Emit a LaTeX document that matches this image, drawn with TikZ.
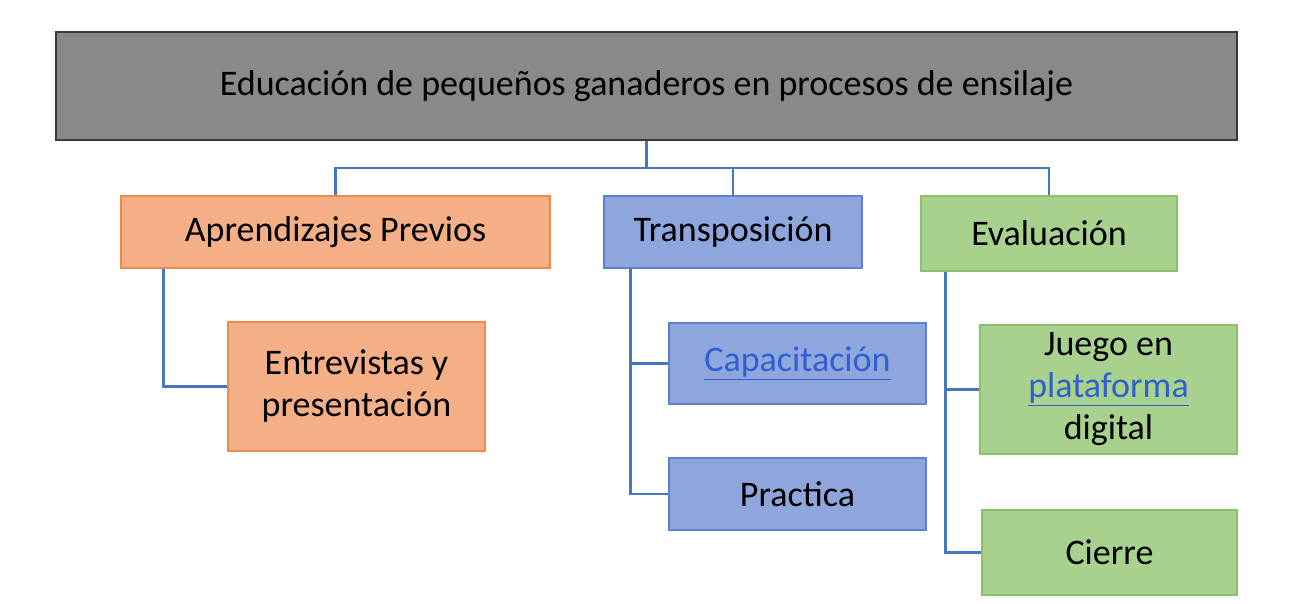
\documentclass[tikz,border=0pt]{standalone}
\usepackage{fontspec}
\setmainfont{Carlito}
\definecolor{grayfill}{HTML}{898989}
\definecolor{grayline}{HTML}{3A3A3A}
\definecolor{orfill}{HTML}{F4AF86}
\definecolor{orline}{HTML}{F08A4B}
\definecolor{blfill}{HTML}{8FA6DD}
\definecolor{blline}{HTML}{5F82CF}
\definecolor{grfill}{HTML}{A9D18E}
\definecolor{grline}{HTML}{8CBF6C}
\definecolor{conn}{HTML}{4678BE}
\definecolor{linkc}{HTML}{2F5FD0}
\newcommand{\lnk}[1]{{\color{linkc}\underline{#1}}}
\tikzset{
  box/.style={draw, line width=1.2pt, inner sep=0pt, align=center, font=\fontsize{36}{42}\selectfont},
  graybox/.style={box, fill=grayfill, draw=grayline, line width=1.5pt},
  orbox/.style={box, fill=orfill, draw=orline},
  blbox/.style={box, fill=blfill, draw=blline},
  grbox/.style={box, fill=grfill, draw=grline},
  wire/.style={draw=conn, line width=2.8pt}
}
\begin{document}
\begin{tikzpicture}[x=1pt,y=-1pt]
\useasboundingbox (0,0) rectangle (1290,604);
\node[graybox, minimum width=1181pt, minimum height=108pt] (top) at (646.5,86) {Educación de pequeños ganaderos en procesos de ensilaje};
\node[orbox, minimum width=429pt, minimum height=72pt] (ap) at (335.5,232) {Aprendizajes Previos};
\node[blbox, minimum width=258pt, minimum height=72pt] (tr) at (733,232) {Transposición};
\node[grbox, minimum width=256pt, minimum height=75pt] (ev) at (1049,233.5) {Evaluación};
\node[orbox, minimum width=257pt, minimum height=129pt] (ent) at (356.5,386.5) {Entrevistas y\\presentación};
\node[blbox, minimum width=257pt, minimum height=81pt] (cap) at (797.5,363.5) {\lnk{Capacitación}};
\node[blbox, minimum width=257pt, minimum height=72pt] (pra) at (797.5,494) {Practica};
\node[grbox, minimum width=257pt, minimum height=129pt] (jue) at (1108.5,389.5) {Juego en\\\lnk{plataforma}\\digital};
\node[grbox, minimum width=255pt, minimum height=85pt] (cie) at (1109.5,552.5) {Cierre};
\coordinate (j) at (top.south |- 0,168);
\draw[wire] (top.south) -- (j);
\draw[wire] (ap.north) |- (ev.north |- j) -- (ev.north);
\draw[wire] (tr.north) -- (tr.north |- j);
\draw[wire] ([xshift=43pt]ap.south west) |- (ent.west);
\draw[wire] ([xshift=27pt]tr.south west) |- (cap.west);
\draw[wire] ([xshift=27pt]tr.south west) |- (pra.west);
\draw[wire] ([xshift=25pt]ev.south west) |- (jue.west);
\draw[wire] ([xshift=25pt]ev.south west) |- (cie.west);
\end{tikzpicture}
\end{document}
